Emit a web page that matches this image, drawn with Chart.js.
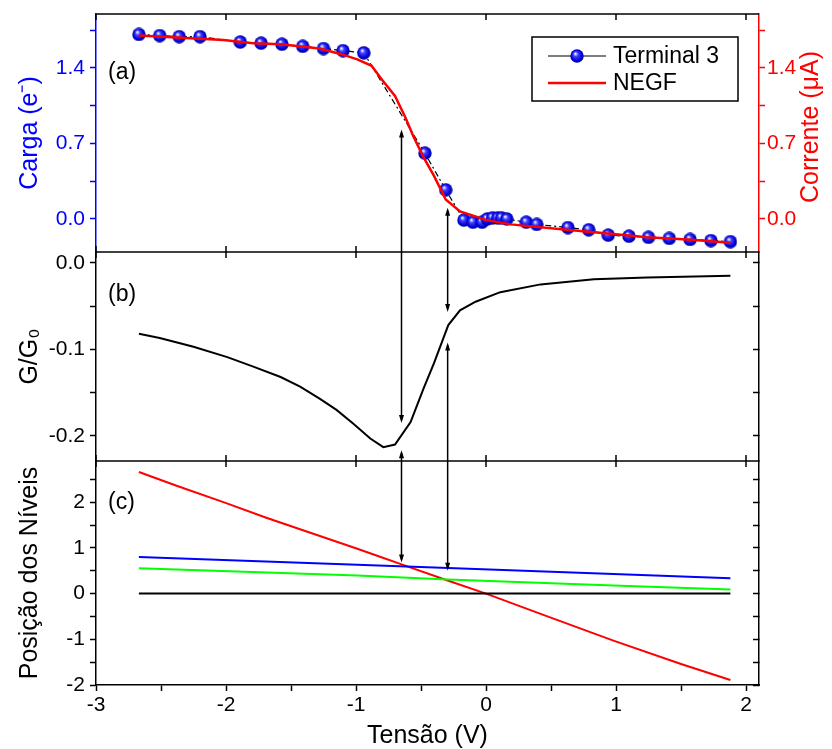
<!DOCTYPE html>
<html lang="pt">
<head>
<meta charset="UTF-8">
<title>Terminal 3 / NEGF</title>
<script src="https://cdn.jsdelivr.net/npm/chart.js@4.4.1/dist/chart.umd.min.js"></script>
<style>
  body { margin: 0; background: #fff; }
  #wrap { width: 832px; height: 749px; }
</style>
</head>
<body>
<div id="wrap"><canvas id="chart" width="832" height="749"></canvas></div>
<script>
// (a) carga no terminal 3
const termVolt = [-2.67, -2.51, -2.36, -2.20, -1.89, -1.73, -1.57, -1.41, -1.25, -1.10, -0.94, -0.47, -0.31,
  -0.17, -0.10, -0.03, 0.01, 0.05, 0.09, 0.12, 0.16, 0.31, 0.39, 0.63, 0.79, 0.94, 1.10, 1.25, 1.41, 1.57, 1.73, 1.88];
const termCharge = [1.71, 1.70, 1.69, 1.69, 1.64, 1.63, 1.62, 1.60, 1.58, 1.56, 1.54, 0.61, 0.27,
  -0.01, -0.03, -0.03, 0.00, 0.01, 0.01, 0.01, 0.00, -0.03, -0.05, -0.08, -0.10, -0.15, -0.16, -0.17, -0.18, -0.19, -0.20, -0.21];

// (a) corrente NEGF
const negfVolt = [-2.67, -2.20, -2.02, -1.79, -1.58, -1.28, -1.12, -0.99, -0.88, -0.80, -0.70, -0.62, -0.56,
  -0.48, -0.40, -0.31, -0.20, -0.07, 0.00, 0.19, 0.62, 0.98, 1.24, 1.55, 1.88];
const negfCurrent = [1.70, 1.67, 1.66, 1.63, 1.62, 1.58, 1.53, 1.48, 1.42, 1.29, 1.14, 0.94, 0.77,
  0.57, 0.40, 0.18, 0.07, 0.02, -0.01, -0.05, -0.10, -0.14, -0.17, -0.19, -0.22];

// (b) condutancia
const gVolt = [-2.67, -2.51, -2.25, -1.99, -1.79, -1.58, -1.43, -1.28, -1.15, -1.02, -0.89, -0.79, -0.70,
  -0.58, -0.48, -0.40, -0.29, -0.20, -0.08, 0.11, 0.42, 0.83, 1.24, 1.88];
const gValue = [-0.082, -0.087, -0.097, -0.109, -0.120, -0.132, -0.143, -0.157, -0.170, -0.186, -0.203, -0.213, -0.210,
  -0.184, -0.145, -0.116, -0.072, -0.055, -0.045, -0.034, -0.025, -0.019, -0.017, -0.015];

// (c) posicao dos niveis
const redVolt = [-2.67, -2.38, -2.02, -1.69, -0.99, -0.81, -0.66, -0.29, 0.00, 0.42, 0.98, 1.50, 1.88];
const redLevel = [2.66, 2.36, 2.00, 1.66, 0.98, 0.80, 0.65, 0.28, 0.00, -0.445, -1.03, -1.54, -1.89];
const blueVolt = [-2.67, -0.99, -0.29, 0.98, 1.88];
const blueLevel = [0.80, 0.63, 0.56, 0.43, 0.335];
const greenVolt = [-2.67, -0.99, -0.29, 0.98, 1.88];
const greenLevel = [0.555, 0.395, 0.307, 0.175, 0.088];
const blackVolt = [-2.67, 1.88];
const blackLevel = [0, 0];

// setas verticais (tensao e extremos em unidades de cada painel)
const arrowVolt = [-0.65, -0.295];
const arrowTopCharge = [0.83, 0.105];
const arrowMidG1 = [-0.185, -0.057];
const arrowMidG2 = [-0.2165, -0.092];
const arrowLevel = [0.68, 0.50];

const BLUE = '#0000ff';
const RED = '#ff0000';
const FONT = "'Liberation Sans', Arial, sans-serif";

Chart.defaults.font.family = FONT;
Chart.defaults.font.size = 21;
Chart.defaults.color = '#000';

function pts(xs, ys) {
  return xs.map((x, i) => ({ x: x, y: ys[i] }));
}

function makeBall(r) {
  const c = document.createElement('canvas');
  c.width = c.height = 2 * r;
  const g = c.getContext('2d');
  const grad = g.createRadialGradient(r * 0.75, r * 0.65, 0.4, r, r, r);
  grad.addColorStop(0, '#f4f4ff');
  grad.addColorStop(0.3, '#4040ff');
  grad.addColorStop(0.75, '#0000dc');
  grad.addColorStop(1, '#000088');
  g.fillStyle = grad;
  g.beginPath();
  g.arc(r, r, r - 0.3, 0, Math.PI * 2);
  g.fill();
  return c;
}
const ball = makeBall(7);

function isMult(v, step) {
  const q = v / step;
  return Math.abs(q - Math.round(q)) < 1e-6;
}

function yScale(opts) {
  const left = opts.position === 'left';
  return {
    type: 'linear',
    position: opts.position,
    stack: left ? 'left' : 'right',
    stackWeight: opts.weight,
    min: opts.min,
    max: opts.max,
    ticks: {
      stepSize: opts.step,
      includeBounds: false,
      autoSkip: false,
      color: opts.color || '#000',
      padding: left ? 5 : 2,
      callback: opts.label || (() => '')
    },
    grid: {
      display: true, drawOnChartArea: false, drawTicks: true,
      tickLength: opts.tickLength || 6, tickColor: opts.color || '#000', tickWidth: 1.5
    },
    border: { color: opts.color || '#000', width: 1.5 },
    title: opts.title ? {
      display: true, text: opts.title, color: opts.color || '#000',
      font: { size: 25 }, padding: { top: 15, bottom: 0 }
    } : { display: false },
    afterFit: s => {
      s.width = left ? 96 : 73;
      s.paddingTop = 0;
      s.paddingBottom = 0;
    }
  };
}

const framePlugin = {
  id: 'frame',
  afterDatasetsDraw(chart) {
    const { ctx } = chart;
    const x = chart.scales.x, yA = chart.scales.yA, yB = chart.scales.yB, yC = chart.scales.yC;
    ctx.save();
    ctx.strokeStyle = '#000';
    ctx.fillStyle = '#000';
    ctx.lineWidth = 1.5;
    for (let i = 0; i < arrowVolt.length; i++) {
      const px = x.getPixelForValue(arrowVolt[i]);
      const segs = [
        [yA.getPixelForValue(arrowTopCharge[i]), yB.getPixelForValue(arrowMidG1[i])],
        [yB.getPixelForValue(arrowMidG2[i]), yC.getPixelForValue(arrowLevel[i])]
      ];
      segs.forEach(([y1, y2]) => {
        ctx.beginPath();
        ctx.moveTo(px, y1 + 3);
        ctx.lineTo(px, y2 - 3);
        ctx.stroke();
        [[y1, -1], [y2, 1]].forEach(([yy, dir]) => {
          ctx.beginPath();
          ctx.moveTo(px, yy);
          ctx.lineTo(px - 2.5, yy - dir * 8);
          ctx.lineTo(px + 2.5, yy - dir * 8);
          ctx.closePath();
          ctx.fill();
        });
      });
    }
    ctx.restore();
  },
  afterDraw(chart) {
    const { ctx, chartArea } = chart;
    const x = chart.scales.x, yA = chart.scales.yA, yB = chart.scales.yB, yC = chart.scales.yC;
    const L = chartArea.left, R = chartArea.right;
    ctx.save();
    ctx.strokeStyle = '#000';
    ctx.lineWidth = 1.5;
    // bordas horizontais dos paineis
    [yA.top, yA.bottom, yB.bottom].forEach(yy => {
      ctx.beginPath();
      ctx.moveTo(L, yy);
      ctx.lineTo(R, yy);
      ctx.stroke();
    });
    // ticks internos do eixo x em cada painel
    x.ticks.forEach(t => {
      if (!Number.isInteger(t.value)) return;
      const px = x.getPixelForValue(t.value);
      [[yA.top, 1], [yA.bottom, -1], [yB.top, 1], [yB.bottom, -1], [yC.top, 1]].forEach(([yy, d]) => {
        ctx.beginPath();
        ctx.moveTo(px, yy);
        ctx.lineTo(px, yy + d * 6);
        ctx.stroke();
      });
    });

    // rotulos dos paineis
    ctx.fillStyle = '#000';
    ctx.font = '23px ' + FONT;
    ctx.textAlign = 'left';
    ctx.textBaseline = 'middle';
    ctx.fillText('(a)', L + 12, yA.top + 59);
    ctx.fillText('(b)', L + 12, yB.top + 43);
    ctx.fillText('(c)', L + 12, yC.top + 42);

    // titulo do eixo direito
    const yAR = chart.scales.yAR;
    ctx.save();
    ctx.translate(yAR.right - 21, (yA.top + yA.bottom) / 2 - 6);
    ctx.rotate(-Math.PI / 2);
    ctx.fillStyle = RED;
    ctx.font = '25px ' + FONT;
    ctx.textAlign = 'center';
    ctx.fillText('Corrente (\u03bcA)', 0, 0);
    ctx.restore();

    // legenda
    const bx = R - 227, by = yA.top + 23, bw = 206, bh = 64;
    ctx.lineWidth = 1.5;
    ctx.strokeStyle = '#000';
    ctx.strokeRect(bx, by, bw, bh);
    const ds = chart.data.datasets;
    const rows = [ds[1], ds[0]];
    ctx.font = '23px ' + FONT;
    rows.forEach((d, i) => {
      const ry = by + 19 + i * 27;
      ctx.beginPath();
      ctx.strokeStyle = d.borderColor;
      ctx.lineWidth = d.borderWidth;
      ctx.moveTo(bx + 16, ry);
      ctx.lineTo(bx + 74, ry);
      ctx.stroke();
      if (d.pointStyle === ball) ctx.drawImage(ball, bx + 45 - 7, ry - 7);
      ctx.fillStyle = '#000';
      ctx.fillText(d.label, bx + 81, ry + 1);
    });
    ctx.restore();
  }
};

new Chart(document.getElementById('chart'), {
  type: 'line',
  data: {
    datasets: [
      {
        label: 'NEGF', data: pts(negfVolt, negfCurrent), yAxisID: 'yAR',
        borderColor: RED, borderWidth: 2.5, pointRadius: 0, order: 0
      },
      {
        label: 'Terminal 3', data: pts(termVolt, termCharge), yAxisID: 'yA',
        borderColor: '#000', borderWidth: 1.2, borderDash: [6, 3, 2, 3],
        pointStyle: ball, pointRadius: 7, order: 1
      },
      {
        label: 'G/G0', data: pts(gVolt, gValue), yAxisID: 'yB',
        borderColor: '#000', borderWidth: 2, pointRadius: 0
      },
      { label: 'preto', data: pts(blackVolt, blackLevel), yAxisID: 'yC', borderColor: '#000', borderWidth: 2, pointRadius: 0 },
      { label: 'verde', data: pts(greenVolt, greenLevel), yAxisID: 'yC', borderColor: '#00ff00', borderWidth: 2, pointRadius: 0 },
      { label: 'azul', data: pts(blueVolt, blueLevel), yAxisID: 'yC', borderColor: BLUE, borderWidth: 2, pointRadius: 0 },
      { label: 'vermelho', data: pts(redVolt, redLevel), yAxisID: 'yC', borderColor: RED, borderWidth: 2, pointRadius: 0 }
    ]
  },
  options: {
    responsive: false,
    animation: false,
    devicePixelRatio: 1,
    layout: { padding: { top: 14, left: 0, right: 0, bottom: 0 } },
    elements: { line: { tension: 0 } },
    plugins: { legend: { display: false }, tooltip: { enabled: false } },
    scales: {
      x: {
        type: 'linear', position: 'bottom', min: -3, max: 2.1,
        ticks: {
          stepSize: 0.5, includeBounds: false, autoSkip: false, maxTicksLimit: 20, maxRotation: 0,
          padding: 2, color: '#000',
          callback: v => Number.isInteger(v) ? String(v) : ''
        },
        grid: { display: true, drawOnChartArea: false, drawTicks: true, tickLength: 6, tickColor: '#000', tickWidth: 1.5 },
        border: { color: '#000', width: 1.5 },
        title: { display: true, text: 'Tensão (V)', color: '#000', font: { size: 25, lineHeight: 1 }, padding: 0 },
        afterFit: s => { s.height = 64; s.paddingLeft = 0; s.paddingRight = 0; }
      },
      yC: yScale({ position: 'left', weight: 224, min: -2, max: 2.9, step: 0.5,
        title: 'Posição dos Níveis', label: v => Number.isInteger(v) ? String(v) : '' }),
      yB: yScale({ position: 'left', weight: 209, min: -0.229, max: 0.0124, step: 0.05,
        title: 'G/G\u2080', label: v => isMult(v, 0.1) ? v.toFixed(1) : '' }),
      yA: yScale({ position: 'left', weight: 238, min: -0.306, max: 1.9, step: 0.35, color: BLUE,
        title: 'Carga (e\u207b)', label: v => isMult(v, 0.7) ? v.toFixed(1) : '' }),
      yAR: yScale({ position: 'right', weight: 238, min: -0.306, max: 1.9, step: 0.35, color: RED, tickLength: 6,
        label: v => isMult(v, 0.7) ? v.toFixed(1) : '' }),
      yBR: yScale({ position: 'right', weight: 209, min: -0.229, max: 0.0124, step: 0.05, tickLength: -6 }),
      yCR: yScale({ position: 'right', weight: 224, min: -2, max: 2.9, step: 0.5, tickLength: -6 })
    }
  },
  plugins: [framePlugin]
});
</script>
</body>
</html>
